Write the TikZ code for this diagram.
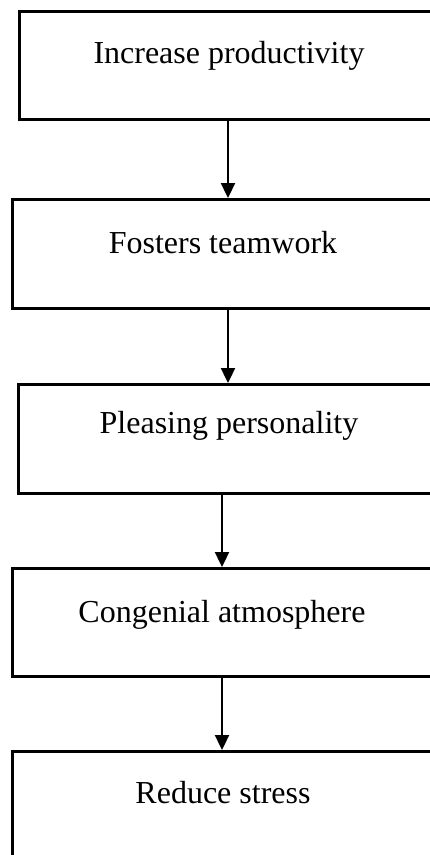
\documentclass[tikz,border=0pt]{standalone}
\usepackage{fontspec}
\setmainfont{Liberation Serif}
\usetikzlibrary{arrows.meta}
\begin{document}
\begin{tikzpicture}[x=1pt,y=-1pt,
  boxstyle/.style={draw,line width=2.8pt,rectangle,inner sep=0pt,anchor=north west},
  txt/.style={anchor=base,inner sep=0pt,font=\fontsize{32}{38}\selectfont},
  arr/.style={line width=2.3pt,-{Triangle[width=14pt,length=15pt]}}]
\useasboundingbox (0,0) rectangle (430,855);
\clip (0,0) rectangle (430,855);
\node[boxstyle,minimum width=422pt,minimum height=108pt] (b1) at (18,10) {};
\node[boxstyle,minimum width=429pt,minimum height=109pt] (b2) at (11,198) {};
\node[boxstyle,minimum width=423pt,minimum height=109pt] (b3) at (17,383) {};
\node[boxstyle,minimum width=429pt,minimum height=108pt] (b4) at (11,567) {};
\node[boxstyle,minimum width=429pt,minimum height=130pt] (b5) at (11,750) {};
\node[txt] (t1) at (229,63) {Increase productivity};
\node[txt] (t2) at (223,253) {Fosters teamwork};
\node[txt] (t3) at (229,433) {Pleasing personality};
\node[txt] (t4) at (222,622) {Congenial atmosphere};
\node[txt] (t5) at (223,803) {Reduce stress};
\coordinate (xa) at (228,0);
\coordinate (xb) at (222,0);
\draw[arr] (b1.south -| xa) -- (b2.north -| xa);
\draw[arr] (b2.south -| xa) -- (b3.north -| xa);
\draw[arr] (b3.south -| xb) -- (b4.north -| xb);
\draw[arr] (b4.south -| xb) -- (b5.north -| xb);
\end{tikzpicture}
\end{document}
